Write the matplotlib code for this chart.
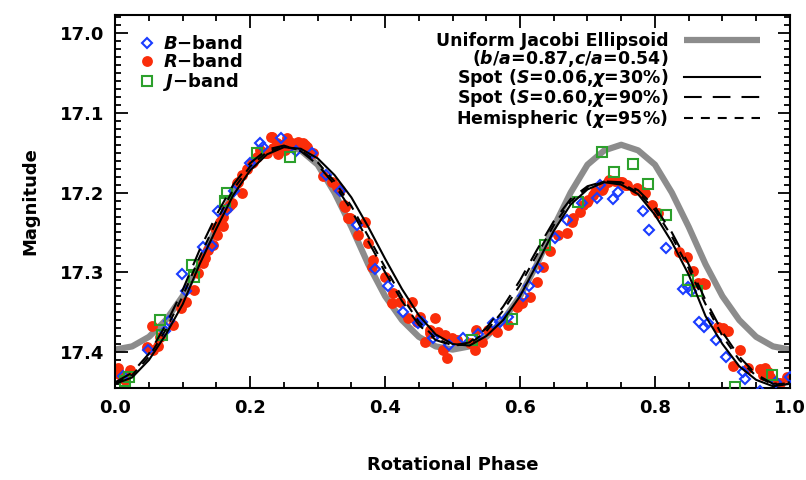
import matplotlib
matplotlib.use("Agg")
import matplotlib.pyplot as plt
from matplotlib.lines import Line2D
from matplotlib.ticker import MultipleLocator, FormatStrFormatter

plt.rcParams['font.family'] = ['DejaVu Sans']
plt.rcParams['font.weight'] = 'bold'
plt.rcParams['axes.labelweight'] = 'bold'
plt.rcParams['mathtext.fontset'] = 'custom'
plt.rcParams['mathtext.it'] = 'DejaVu Sans:italic:bold'
plt.rcParams['mathtext.rm'] = 'DejaVu Sans:bold'

# model curves, phase step 0.025
phase_model = [i * 0.025 for i in range(41)]
jacobi = [17.397, 17.393, 17.381, 17.360, 17.330, 17.290, 17.243, 17.200, 17.165, 17.147,
          17.140, 17.147, 17.165, 17.200, 17.243, 17.290, 17.330, 17.360, 17.381, 17.393,
          17.397, 17.393, 17.381, 17.360, 17.330, 17.290, 17.243, 17.200, 17.165, 17.147,
          17.140, 17.147, 17.165, 17.200, 17.243, 17.290, 17.330, 17.360, 17.381, 17.393,
          17.397]
spot_030 = [17.440, 17.432, 17.410, 17.378, 17.340, 17.290, 17.245, 17.203, 17.172, 17.152,
            17.143, 17.145, 17.157, 17.178, 17.206, 17.243, 17.283, 17.321, 17.354, 17.378,
            17.390, 17.392, 17.380, 17.360, 17.330, 17.290, 17.248, 17.215, 17.196, 17.187,
            17.190, 17.202, 17.228, 17.262, 17.303, 17.355, 17.390, 17.418, 17.435, 17.443,
            17.440]
spot_090 = [17.438, 17.426, 17.402, 17.366, 17.322, 17.272, 17.228, 17.190, 17.163, 17.146,
            17.141, 17.148, 17.165, 17.190, 17.222, 17.261, 17.300, 17.336, 17.366, 17.385,
            17.392, 17.388, 17.370, 17.343, 17.310, 17.272, 17.236, 17.208, 17.192, 17.186,
            17.187, 17.197, 17.218, 17.250, 17.290, 17.335, 17.375, 17.406, 17.428, 17.440,
            17.438]
hemi_095 = [17.439, 17.429, 17.406, 17.372, 17.330, 17.281, 17.236, 17.196, 17.167, 17.149,
            17.142, 17.147, 17.162, 17.186, 17.217, 17.255, 17.294, 17.331, 17.362, 17.383,
            17.392, 17.390, 17.374, 17.348, 17.316, 17.278, 17.241, 17.211, 17.194, 17.186,
            17.188, 17.200, 17.222, 17.255, 17.295, 17.340, 17.380, 17.410, 17.430, 17.441,
            17.439]

# R-band
r_phase = [0.004, 0.005, 0.022, 0.015, 0.047, 0.056, 0.064, 0.055, 0.086, 0.067, 0.098, 0.105,
           0.116, 0.123, 0.130, 0.133, 0.138, 0.145, 0.151, 0.148, 0.156, 0.159, 0.160, 0.166,
           0.170, 0.173, 0.181, 0.182, 0.188, 0.188, 0.196, 0.203, 0.204, 0.210, 0.215, 0.222,
           0.225, 0.231, 0.232, 0.234, 0.240, 0.241, 0.244, 0.252, 0.255, 0.259, 0.262, 0.270,
           0.271, 0.279, 0.281, 0.284, 0.293, 0.308, 0.321, 0.329, 0.333, 0.339, 0.341, 0.345,
           0.348, 0.360, 0.370, 0.375, 0.381, 0.382, 0.400, 0.410, 0.412, 0.422, 0.434, 0.440,
           0.447, 0.452, 0.459, 0.467, 0.467, 0.474, 0.479, 0.486, 0.489, 0.492, 0.499, 0.507,
           0.526, 0.533, 0.535, 0.544, 0.553, 0.566, 0.582, 0.596, 0.603, 0.615, 0.625, 0.634,
           0.644, 0.657, 0.669, 0.677, 0.679, 0.689, 0.694, 0.699, 0.701, 0.708, 0.711, 0.721,
           0.723, 0.731, 0.732, 0.741, 0.748, 0.751, 0.756, 0.758, 0.770, 0.773, 0.782, 0.785,
           0.796, 0.805, 0.836, 0.847, 0.856, 0.864, 0.871, 0.874, 0.893, 0.901, 0.906, 0.908,
           0.916, 0.926, 0.938, 0.956, 0.960, 0.963, 0.967, 0.970, 0.982, 0.985, 0.996]
r_mag = [17.420, 17.428, 17.423, 17.435, 17.394, 17.397, 17.392, 17.367, 17.366, 17.381, 17.345, 17.337,
         17.322, 17.301, 17.288, 17.282, 17.272, 17.266, 17.253, 17.245, 17.237, 17.242, 17.231, 17.219,
         17.216, 17.213, 17.188, 17.187, 17.200, 17.178, 17.170, 17.163, 17.162, 17.155, 17.147, 17.150,
         17.150, 17.130, 17.130, 17.144, 17.138, 17.152, 17.140, 17.147, 17.132, 17.140, 17.138, 17.138,
         17.137, 17.138, 17.140, 17.143, 17.150, 17.179, 17.187, 17.193, 17.197, 17.216, 17.218, 17.232,
         17.232, 17.253, 17.237, 17.263, 17.293, 17.285, 17.306, 17.339, 17.326, 17.337, 17.357, 17.337,
         17.362, 17.356, 17.387, 17.376, 17.372, 17.357, 17.375, 17.397, 17.379, 17.408, 17.382, 17.385,
         17.389, 17.397, 17.372, 17.387, 17.372, 17.375, 17.366, 17.344, 17.339, 17.331, 17.312, 17.293,
         17.273, 17.253, 17.251, 17.237, 17.232, 17.224, 17.216, 17.212, 17.209, 17.203, 17.199, 17.197,
         17.194, 17.187, 17.184, 17.186, 17.187, 17.187, 17.190, 17.191, 17.197, 17.194, 17.199, 17.201,
         17.216, 17.226, 17.275, 17.281, 17.298, 17.313, 17.313, 17.315, 17.369, 17.370, 17.374, 17.374,
         17.417, 17.397, 17.420, 17.421, 17.429, 17.420, 17.425, 17.432, 17.439, 17.439, 17.431]

# B-band
b_phase = [0.012, 0.049, 0.074, 0.079, 0.099, 0.105, 0.130, 0.144, 0.153, 0.166, 0.176, 0.199,
           0.215, 0.219, 0.246, 0.268, 0.292, 0.313, 0.333, 0.358, 0.385, 0.404, 0.427, 0.449,
           0.455, 0.471, 0.495, 0.516, 0.538, 0.560, 0.570, 0.582, 0.604, 0.613, 0.627, 0.652,
           0.670, 0.692, 0.714, 0.719, 0.738, 0.745, 0.782, 0.791, 0.816, 0.841, 0.849, 0.853,
           0.865, 0.873, 0.879, 0.890, 0.905, 0.930, 0.933, 0.956, 0.979, 1.000]
b_mag = [17.430, 17.397, 17.374, 17.361, 17.302, 17.323, 17.268, 17.267, 17.223, 17.222, 17.198, 17.163,
         17.138, 17.143, 17.132, 17.148, 17.150, 17.178, 17.198, 17.241, 17.296, 17.317, 17.350, 17.364,
         17.362, 17.382, 17.391, 17.382, 17.377, 17.364, 17.362, 17.356, 17.330, 17.317, 17.295, 17.257,
         17.234, 17.213, 17.207, 17.190, 17.208, 17.199, 17.223, 17.247, 17.270, 17.321, 17.318, 17.323,
         17.362, 17.369, 17.364, 17.385, 17.406, 17.425, 17.434, 17.449, 17.438, 17.431]

# J-band
j_phase = [0.015, 0.020, 0.067, 0.070, 0.114, 0.117, 0.163, 0.166, 0.210, 0.259, 0.529, 0.588,
           0.637, 0.686, 0.721, 0.739, 0.768, 0.790, 0.816, 0.849, 0.862, 0.919, 0.969, 0.973]
j_mag = [17.437, 17.432, 17.360, 17.379, 17.291, 17.306, 17.210, 17.200, 17.150, 17.155, 17.385, 17.359,
         17.266, 17.212, 17.149, 17.174, 17.164, 17.189, 17.228, 17.310, 17.323, 17.444, 17.458, 17.429]

red = '#fa2d0a'
blue = '#1a3cff'
green = '#2ca02c'
grey = '#8c8c8c'

fig = plt.figure(figsize=(8.06, 4.8), dpi=100)
ax = fig.add_axes([0.143, 0.192, 0.837, 0.777])

ax.plot(phase_model, jacobi, color=grey, lw=4.5, solid_capstyle='butt', zorder=1)
ax.plot(r_phase, r_mag, 'o', color=red, ms=7.8, mec='none', zorder=2)
ax.plot(b_phase, b_mag, 'D', mfc='none', mec=blue, mew=1.5, ms=5.5, zorder=3)
ax.plot(j_phase, j_mag, 's', mfc='none', mec=green, mew=1.5, ms=7.5, zorder=3)
ax.plot(phase_model, spot_030, color='k', lw=1.5, zorder=4)
ax.plot(phase_model, spot_090, color='k', lw=1.5, dashes=(8.5, 5.3), zorder=4)
ax.plot(phase_model, hemi_095, color='k', lw=1.5, dashes=(4.3, 3.8), zorder=4)

ax.set_xlim(0, 1)
ax.set_ylim(17.445, 16.977)
ax.xaxis.set_major_locator(MultipleLocator(0.2))
ax.xaxis.set_minor_locator(MultipleLocator(0.05))
ax.yaxis.set_major_locator(MultipleLocator(0.1))
ax.yaxis.set_minor_locator(MultipleLocator(0.01))
ax.xaxis.set_major_formatter(FormatStrFormatter('%.1f'))
ax.yaxis.set_major_formatter(FormatStrFormatter('%.1f'))
ax.tick_params(which='both', direction='in', top=True, right=True, width=1.3, labelsize=13)
ax.tick_params(which='major', length=9, pad=8)
ax.tick_params(which='minor', length=4.5)
for s in ax.spines.values():
    s.set_linewidth(1.5)

ax.set_xlabel('Rotational Phase', fontsize=13, labelpad=28)
ax.set_ylabel('Magnitude', fontsize=13, labelpad=15)

# left legend (data)
h_pts = [Line2D([], [], ls='none', marker='D', mfc='none', mec=blue, mew=1.5, ms=5.5),
         Line2D([], [], ls='none', marker='o', color=red, mec='none', ms=7.8),
         Line2D([], [], ls='none', marker='s', mfc='none', mec=green, mew=1.5, ms=7.5)]
l_pts = [r'$B$−band', r'$R$−band', r'$J$−band']
leg1 = ax.legend(h_pts, l_pts, loc='upper left', bbox_to_anchor=(0.035, 0.945), frameon=False,
                 fontsize=13, handlelength=0.9, handletextpad=0.45, labelspacing=0.0,
                 borderaxespad=0, borderpad=0)
ax.add_artist(leg1)

# right legend (models)
h_mod = [Line2D([], [], color=grey, lw=4.5, solid_capstyle='butt'),
         Line2D([], [], color='none'),
         Line2D([], [], color='k', lw=1.5),
         Line2D([], [], color='k', lw=1.5, dashes=(8.5, 5.3)),
         Line2D([], [], color='k', lw=1.5, dashes=(4.3, 3.8))]
l_mod = ['Uniform Jacobi Ellipsoid',
         r'($b/a$=0.87,$c/a$=0.54)',
         r'Spot ($S$=0.06,$\chi$=30%)',
         r'Spot ($S$=0.60,$\chi$=90%)',
         r'Hemispheric ($\chi$=95%)']
ax.legend(h_mod, l_mod, loc='upper right', bbox_to_anchor=(0.956, 0.955), frameon=False,
          fontsize=12.5, markerfirst=False, handlelength=4.4, handletextpad=0.9,
          labelspacing=-0.1, borderaxespad=0, borderpad=0)

fig.savefig('out.png', dpi=100)
